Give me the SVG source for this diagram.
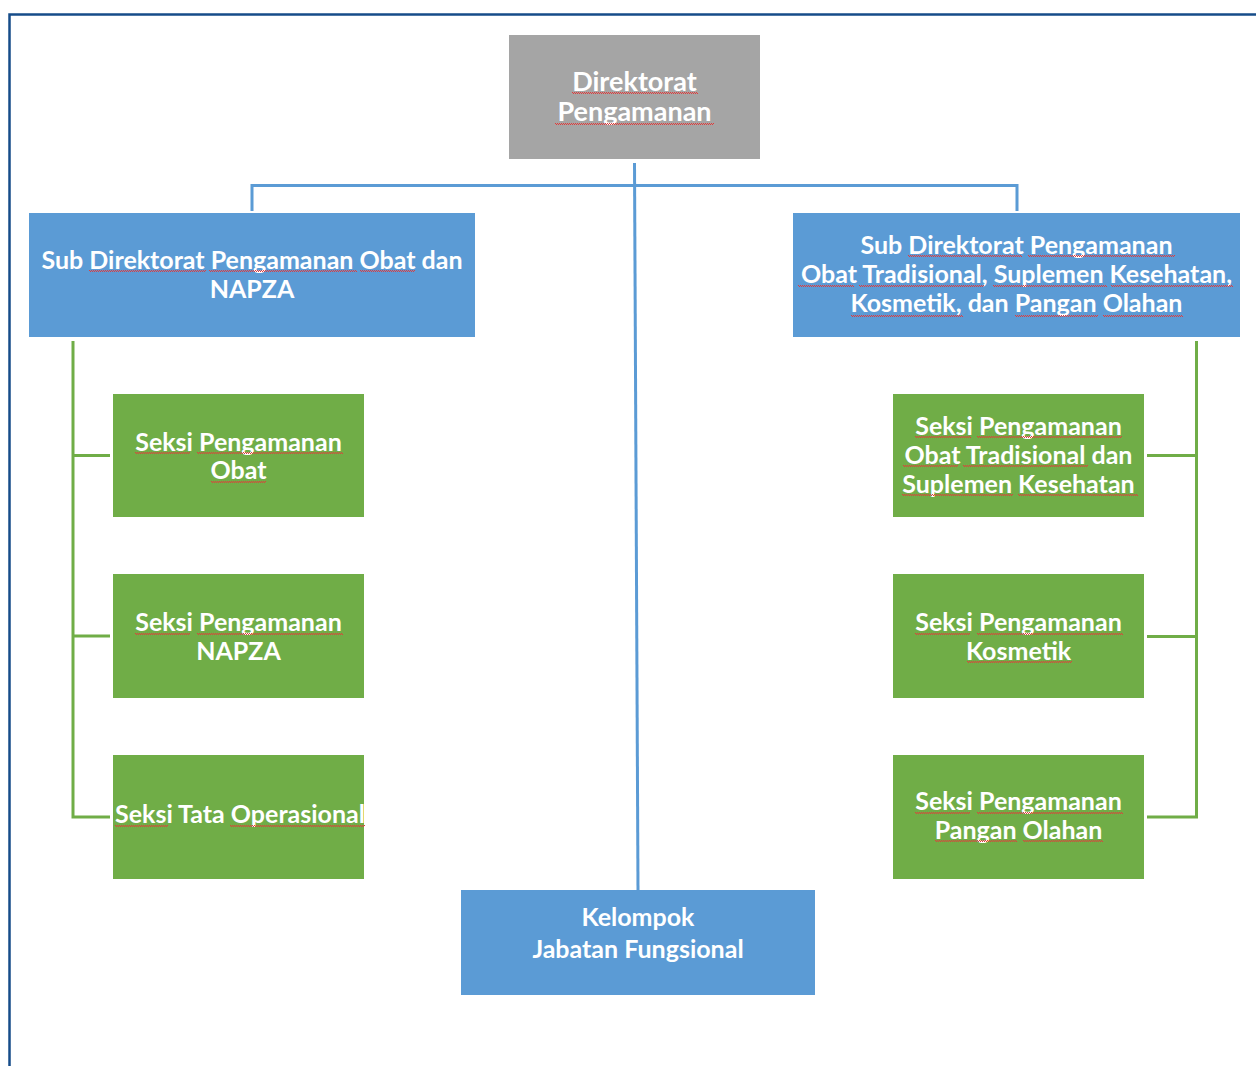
<svg xmlns="http://www.w3.org/2000/svg" width="1256" height="1066" viewBox="0 0 1256 1066">
<style>
text{font-family:Lato,"Liberation Sans",sans-serif;font-weight:700;fill:#fff;text-anchor:middle;font-size:25px}
.big{font-size:27px}
.gray{fill:#a5a5a5}
.blue{fill:#5b9bd5}
.green{fill:#70ad47}
.cb{fill:none;stroke:#5b9bd5;stroke-width:3}
.cg{fill:none;stroke:#70ad47;stroke-width:3}
.sq{fill:none;stroke:#e23a3a;stroke-width:1;stroke-dasharray:1 1}
</style>
<rect width="1256" height="1066" fill="#fff"/>
<path d="M9.5 1066V14.5H1256" fill="none" stroke="#164c89" stroke-width="2.5"/>
<g id="connectors">
<path class="cb" d="M634.5 163L638 890"/>
<path class="cb" d="M252 211V185.5H1017V211"/>
<path class="cg" d="M73 341V817H110M73 455.5H110M73 636H110"/>
<path class="cg" d="M1196.5 341V817H1147M1196.5 455.5H1147M1196.5 636.5H1147"/>
</g>
<g id="direktorat">
<rect class="gray" x="509" y="35" width="251" height="124"/>
<text class="big" x="634.5" y="90.5">Direktorat</text>
<text class="big" x="634.5" y="120.5">Pengamanan</text>
</g>
<g id="subdit-obat">
<rect class="blue" x="29" y="213" width="446" height="124"/>
<text x="252" y="268.5">Sub Direktorat Pengamanan Obat dan</text>
<text x="252" y="297.5">NAPZA</text>
</g>
<g id="subdit-ot">
<rect class="blue" x="793" y="213" width="447" height="124"/>
<text x="1016.5" y="253.5">Sub Direktorat Pengamanan</text>
<text x="1016.5" y="282.5">Obat Tradisional, Suplemen Kesehatan,</text>
<text x="1016.5" y="312">Kosmetik, dan Pangan Olahan</text>
</g>
<g id="seksi-obat">
<rect class="green" x="113" y="394" width="251" height="123"/>
<text x="238.5" y="450.5">Seksi Pengamanan</text>
<text x="238.5" y="479">Obat</text>
</g>
<g id="seksi-napza">
<rect class="green" x="113" y="574" width="251" height="124"/>
<text x="238.5" y="631">Seksi Pengamanan</text>
<text x="238.5" y="659.5">NAPZA</text>
</g>
<g id="seksi-tata">
<rect class="green" x="113" y="755" width="251" height="124"/>
<text x="240" y="823">Seksi Tata Operasional</text>
</g>
<g id="seksi-ot">
<rect class="green" x="893" y="394" width="251" height="123"/>
<text x="1018.5" y="434.5">Seksi Pengamanan</text>
<text x="1018.5" y="463.5">Obat Tradisional dan</text>
<text x="1018.5" y="492.5">Suplemen Kesehatan</text>
</g>
<g id="seksi-kosmetik">
<rect class="green" x="893" y="574" width="251" height="124"/>
<text x="1018.5" y="631">Seksi Pengamanan</text>
<text x="1018.5" y="659.5">Kosmetik</text>
</g>
<g id="seksi-pangan">
<rect class="green" x="893" y="755" width="251" height="124"/>
<text x="1018.5" y="810">Seksi Pengamanan</text>
<text x="1018.5" y="838.5">Pangan Olahan</text>
</g>
<g id="kelompok">
<rect class="blue" x="461" y="890" width="354" height="105"/>
<text x="638" y="926">Kelompok</text>
<text x="638" y="958">Jabatan Fungsional</text>
</g>
<g id="spellcheck-marks">
<path class="sq" d="M572 92.5H698M573 93.5H698M555 123.5H714M556 124.5H714"/>
<path class="sq" d="M89 270.5H206M90 271.5H206M209 270.5H357M210 271.5H357M360 270.5H415M361 271.5H415"/>
<path class="sq" d="M908 255.5H1022M909 256.5H1022M1028 255.5H1175M1029 256.5H1175"/>
<path class="sq" d="M798 285.5H854M799 286.5H854M859 285.5H984M860 286.5H984M993 285.5H1107M994 286.5H1107M1111 285.5H1233M1112 286.5H1233"/>
<path class="sq" d="M851 315.5H963M852 316.5H963M1015 315.5H1098M1016 316.5H1098M1103 315.5H1183M1104 316.5H1183"/>
<path class="sq" d="M915 436.5H971M916 437.5H971M977 436.5H1122M978 437.5H1122M903 465.5H958M904 466.5H958M963 465.5H1088M964 466.5H1088M902 494.5H1013M903 495.5H1013M1018 494.5H1138M1019 495.5H1138"/>
<path class="sq" d="M915 633.5H970M916 634.5H970M977 633.5H1123M978 634.5H1123M967 661.5H1072M968 662.5H1072"/>
<path class="sq" d="M915 812.5H970M916 813.5H970M977 812.5H1123M978 813.5H1123M935 840.5H1017M936 841.5H1017M1023 840.5H1103M1024 841.5H1103"/>
<path class="sq" d="M135 452.5H190M136 453.5H190M197 452.5H343M198 453.5H343M211 481.5H266M212 482.5H266"/>
<path class="sq" d="M135 633.5H190M136 634.5H190M197 633.5H343M198 634.5H343"/>
<path class="sq" d="M115 825.5H168M116 826.5H168M230 825.5H365M231 826.5H365"/>
</g>
</svg>
